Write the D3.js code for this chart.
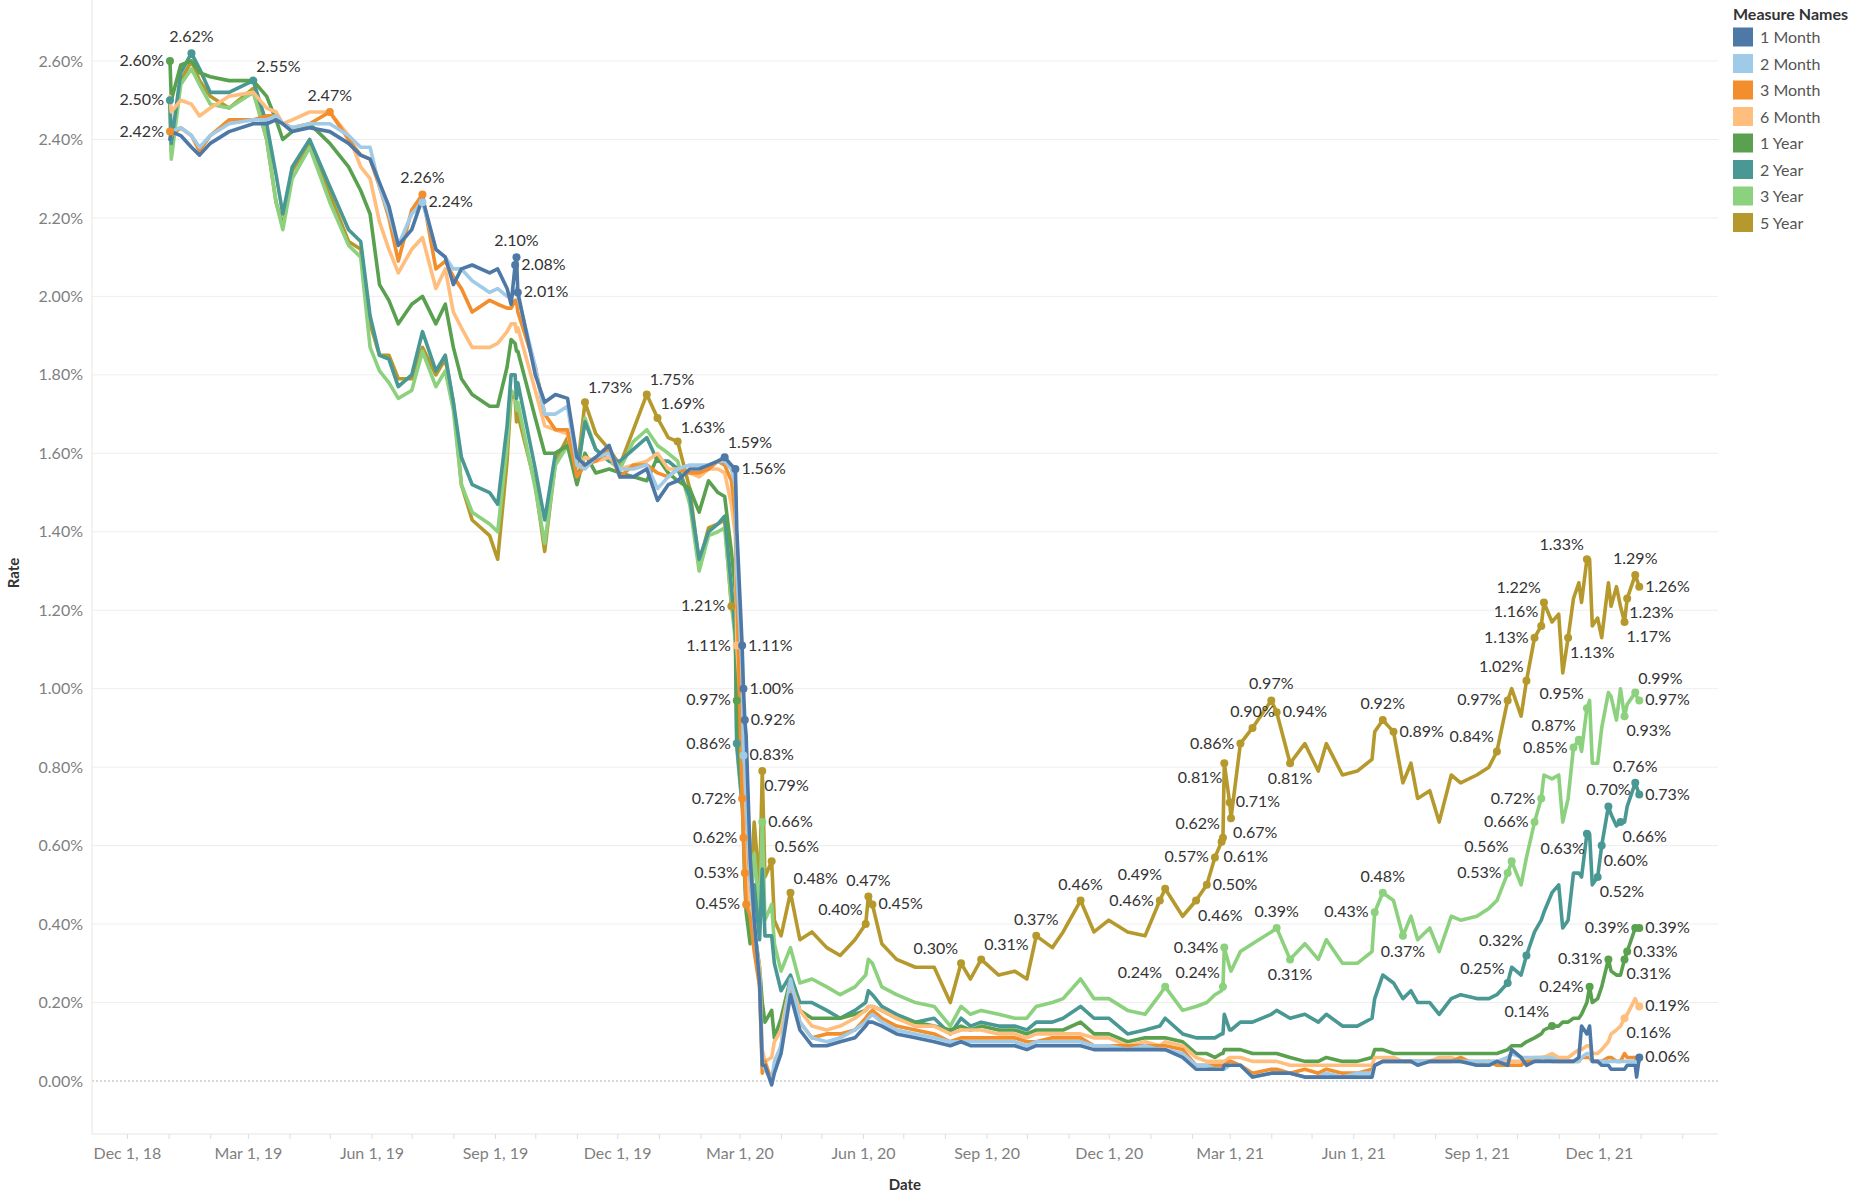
<!DOCTYPE html>
<html>
<head>
<meta charset="utf-8">
<script src="https://cdn.jsdelivr.net/npm/d3@7"></script>
<style>
  body { margin: 0; background: #fff; }
  text { font-family: Lato, "Open Sans", sans-serif; }
</style>
</head>
<body>
<div id="chart"></div>
<script>
// observation dates (shared by every series)
const dates = [
  "2019-01-02","2019-01-03","2019-01-10","2019-01-18","2019-01-24","2019-02-01","2019-02-15","2019-03-05","2019-03-15","2019-03-22",
  "2019-03-27","2019-04-03","2019-04-16","2019-05-01","2019-05-15","2019-05-24","2019-05-31","2019-06-07","2019-06-14","2019-06-21",
  "2019-07-01","2019-07-09","2019-07-19","2019-07-26","2019-08-01","2019-08-07","2019-08-15","2019-08-28","2019-09-03","2019-09-10",
  "2019-09-13","2019-09-16","2019-09-17","2019-09-18","2019-10-01","2019-10-08","2019-10-16","2019-10-25","2019-11-01","2019-11-07",
  "2019-11-15","2019-11-25","2019-12-03","2019-12-13","2019-12-23","2019-12-31","2020-01-08","2020-01-15","2020-01-24","2020-01-31",
  "2020-02-07","2020-02-14","2020-02-19","2020-02-24","2020-02-27","2020-02-28","2020-03-03","2020-03-04","2020-03-05","2020-03-06",
  "2020-03-09","2020-03-12","2020-03-16","2020-03-18","2020-03-20","2020-03-25","2020-03-27","2020-04-01","2020-04-08","2020-04-15",
  "2020-04-24","2020-05-05","2020-05-15","2020-05-26","2020-06-03","2020-06-05","2020-06-08","2020-06-15","2020-06-26","2020-07-10",
  "2020-07-24","2020-08-05","2020-08-13","2020-08-20","2020-08-28","2020-09-10","2020-09-22","2020-10-01","2020-10-08","2020-10-20",
  "2020-10-28","2020-11-10","2020-11-20","2020-12-01","2020-12-15","2020-12-28","2021-01-08","2021-01-12","2021-01-25","2021-02-04",
  "2021-02-12","2021-02-18","2021-02-23","2021-02-24","2021-02-25","2021-03-01","2021-03-02","2021-03-09","2021-03-18","2021-04-01",
  "2021-04-05","2021-04-15","2021-04-26","2021-05-06","2021-05-12","2021-05-24","2021-06-04","2021-06-15","2021-06-17","2021-06-23",
  "2021-07-01","2021-07-08","2021-07-14","2021-07-19","2021-07-28","2021-08-04","2021-08-13","2021-08-20","2021-09-01","2021-09-10",
  "2021-09-16","2021-09-24","2021-09-27","2021-10-04","2021-10-08","2021-10-14","2021-10-19","2021-10-21","2021-10-27","2021-11-01",
  "2021-11-04","2021-11-08","2021-11-12","2021-11-16","2021-11-18","2021-11-22","2021-11-24","2021-11-26","2021-11-30","2021-12-03",
  "2021-12-08","2021-12-10","2021-12-14","2021-12-17","2021-12-20","2021-12-22","2021-12-28","2021-12-29","2021-12-31"
];

// rates in percent, one array per maturity
const m1 = [
  2.40,2.42,2.41,2.38,2.36,2.39,2.42,2.44,2.44,2.45, 2.44,2.42,2.43,2.42,2.39,2.36,2.35,2.29,2.23,2.13,
  2.17,2.25,2.12,2.10,2.03,2.07,2.08,2.06,2.07,2.02, 1.98,2.08,2.10,2.01,1.80,1.73,1.75,1.74,1.59,1.57,
  1.59,1.62,1.54,1.54,1.56,1.48,1.52,1.53,1.56,1.56, 1.57,1.58,1.59,1.57,1.56,1.41,1.11,1.00,0.92,0.88,
  0.57,0.41,0.25,0.04,0.04,-0.01,0.02,0.07,0.22,0.13, 0.09,0.09,0.10,0.11,0.14,0.15,0.15,0.14,0.12,0.11,
  0.10,0.09,0.10,0.09,0.09,0.09,0.09,0.08,0.09,0.09, 0.09,0.09,0.08,0.08,0.08,0.08,0.08,0.08,0.06,0.03,
  0.03,0.03,0.03,0.03,0.04,0.04,0.04,0.04,0.01,0.02, 0.02,0.02,0.01,0.01,0.01,0.01,0.01,0.01,0.04,0.05,
  0.05,0.05,0.05,0.04,0.05,0.05,0.05,0.05,0.04,0.04, 0.05,0.04,0.08,0.06,0.04,0.05,0.05,0.05,0.05,0.05,
  0.05,0.05,0.05,0.06,0.14,0.12,0.14,0.05,0.05,0.04, 0.04,0.03,0.03,0.03,0.03,0.04,0.04,0.01,0.06
];
const m2 = [
  2.40,2.42,2.43,2.41,2.38,2.41,2.44,2.45,2.45,2.46, 2.44,2.43,2.44,2.44,2.41,2.38,2.38,2.28,2.21,2.13,
  2.21,2.24,2.12,2.10,2.07,2.07,2.04,2.01,2.02,2.00, 2.00,2.01,2.02,2.00,1.82,1.70,1.70,1.72,1.57,1.56,
  1.59,1.60,1.56,1.56,1.57,1.51,1.54,1.56,1.57,1.57, 1.57,1.58,1.58,1.56,1.52,1.30,1.05,0.83,0.80,0.72,
  0.52,0.40,0.26,0.05,0.03,0.00,0.05,0.09,0.26,0.15, 0.11,0.10,0.11,0.13,0.15,0.16,0.17,0.15,0.13,0.12,
  0.11,0.10,0.10,0.10,0.10,0.10,0.10,0.09,0.10,0.10, 0.10,0.10,0.09,0.09,0.08,0.09,0.08,0.08,0.07,0.04,
  0.04,0.03,0.03,0.03,0.03,0.04,0.04,0.04,0.01,0.02, 0.02,0.02,0.01,0.01,0.02,0.01,0.02,0.02,0.04,0.05,
  0.05,0.05,0.05,0.05,0.05,0.05,0.05,0.05,0.05,0.05, 0.05,0.06,0.07,0.06,0.06,0.06,0.06,0.06,0.06,0.05,
  0.05,0.05,0.05,0.05,0.06,0.07,0.07,0.05,0.05,0.05, 0.05,0.05,0.05,0.05,0.05,0.05,0.05,0.05,0.05
];
const m3 = [
  2.42,2.41,2.43,2.41,2.37,2.41,2.45,2.45,2.46,2.46, 2.44,2.43,2.44,2.47,2.40,2.36,2.35,2.28,2.20,2.09,
  2.22,2.26,2.07,2.09,2.05,2.02,1.96,1.99,1.98,1.97, 1.97,1.99,1.99,1.96,1.82,1.70,1.66,1.66,1.54,1.57,
  1.58,1.61,1.54,1.57,1.57,1.55,1.54,1.56,1.55,1.55, 1.56,1.58,1.57,1.53,1.44,1.27,0.72,0.62,0.53,0.45,
  0.42,0.33,0.24,0.02,0.05,0.00,0.03,0.09,0.25,0.15, 0.11,0.12,0.12,0.13,0.16,0.17,0.18,0.16,0.14,0.13,
  0.12,0.10,0.11,0.11,0.11,0.11,0.11,0.10,0.10,0.11, 0.11,0.11,0.09,0.09,0.09,0.09,0.09,0.09,0.08,0.04,
  0.04,0.04,0.04,0.04,0.04,0.05,0.05,0.04,0.02,0.03, 0.03,0.02,0.03,0.02,0.03,0.02,0.02,0.03,0.04,0.05,
  0.05,0.05,0.05,0.05,0.05,0.05,0.05,0.06,0.04,0.05, 0.04,0.04,0.04,0.04,0.05,0.05,0.06,0.06,0.05,0.05,
  0.05,0.05,0.05,0.05,0.06,0.06,0.06,0.05,0.05,0.05, 0.06,0.06,0.05,0.05,0.07,0.06,0.06,0.05,0.06
];
const m6 = [
  2.51,2.47,2.50,2.49,2.46,2.48,2.51,2.52,2.48,2.47, 2.44,2.45,2.47,2.47,2.41,2.33,2.30,2.19,2.12,2.06,
  2.12,2.15,2.02,2.07,1.96,1.92,1.87,1.87,1.88,1.91, 1.93,1.93,1.91,1.92,1.76,1.67,1.66,1.65,1.56,1.59,
  1.58,1.59,1.56,1.57,1.58,1.60,1.56,1.56,1.55,1.54, 1.56,1.56,1.55,1.47,1.39,1.11,0.90,0.68,0.60,0.53,
  0.43,0.37,0.29,0.08,0.05,0.06,0.10,0.13,0.25,0.18, 0.14,0.13,0.14,0.16,0.18,0.19,0.19,0.18,0.16,0.14,
  0.14,0.12,0.13,0.13,0.13,0.12,0.12,0.11,0.12,0.12, 0.12,0.12,0.11,0.11,0.09,0.10,0.09,0.10,0.09,0.06,
  0.05,0.05,0.05,0.05,0.05,0.06,0.06,0.06,0.05,0.05, 0.05,0.04,0.04,0.04,0.04,0.04,0.04,0.04,0.06,0.06,
  0.06,0.05,0.05,0.05,0.05,0.06,0.06,0.05,0.05,0.05, 0.05,0.05,0.05,0.05,0.05,0.06,0.06,0.06,0.07,0.06,
  0.06,0.06,0.07,0.08,0.08,0.09,0.09,0.07,0.07,0.08, 0.10,0.12,0.13,0.14,0.16,0.17,0.21,0.20,0.19
];
const y1 = [
  2.60,2.50,2.59,2.60,2.57,2.56,2.55,2.55,2.51,2.45, 2.40,2.42,2.44,2.39,2.33,2.27,2.21,2.03,1.99,1.93,
  1.98,2.00,1.93,1.98,1.87,1.79,1.75,1.72,1.72,1.82, 1.89,1.88,1.86,1.86,1.69,1.60,1.60,1.62,1.52,1.60,
  1.55,1.56,1.55,1.54,1.53,1.59,1.55,1.53,1.51,1.45, 1.53,1.50,1.49,1.35,1.25,0.97,0.73,0.62,0.51,0.43,
  0.35,0.39,0.29,0.20,0.15,0.18,0.11,0.16,0.26,0.18, 0.16,0.16,0.16,0.17,0.18,0.19,0.19,0.18,0.16,0.15,
  0.14,0.13,0.14,0.13,0.14,0.13,0.13,0.12,0.13,0.13, 0.13,0.15,0.12,0.12,0.10,0.11,0.11,0.11,0.10,0.07,
  0.07,0.06,0.07,0.07,0.08,0.08,0.08,0.08,0.07,0.07, 0.07,0.06,0.05,0.05,0.06,0.05,0.05,0.06,0.08,0.08,
  0.07,0.07,0.07,0.07,0.07,0.07,0.07,0.07,0.07,0.07, 0.07,0.08,0.09,0.09,0.10,0.11,0.12,0.13,0.14,0.14,
  0.15,0.15,0.16,0.16,0.17,0.20,0.24,0.20,0.21,0.24, 0.31,0.28,0.27,0.27,0.31,0.33,0.39,0.39,0.39
];
const y2 = [
  2.50,2.39,2.57,2.62,2.58,2.52,2.52,2.55,2.44,2.31, 2.21,2.33,2.40,2.28,2.17,2.14,1.95,1.85,1.84,1.77,
  1.80,1.91,1.81,1.85,1.73,1.59,1.52,1.50,1.47,1.67, 1.80,1.80,1.74,1.78,1.56,1.43,1.60,1.62,1.55,1.68,
  1.61,1.58,1.58,1.61,1.64,1.58,1.58,1.56,1.49,1.33, 1.40,1.42,1.44,1.26,1.14,0.86,0.71,0.70,0.59,0.52,
  0.38,0.50,0.36,0.54,0.37,0.37,0.30,0.23,0.27,0.20, 0.20,0.18,0.16,0.18,0.20,0.23,0.22,0.19,0.17,0.15,
  0.16,0.12,0.16,0.14,0.15,0.14,0.14,0.13,0.15,0.15, 0.16,0.19,0.16,0.16,0.12,0.13,0.14,0.16,0.12,0.11,
  0.11,0.11,0.12,0.12,0.17,0.13,0.13,0.15,0.15,0.17, 0.18,0.16,0.17,0.15,0.17,0.14,0.14,0.16,0.21,0.27,
  0.25,0.21,0.23,0.20,0.20,0.17,0.21,0.22,0.21,0.21, 0.22,0.25,0.29,0.27,0.32,0.38,0.41,0.43,0.48,0.50,
  0.39,0.41,0.53,0.53,0.52,0.63,0.63,0.50,0.52,0.60, 0.70,0.68,0.65,0.66,0.66,0.70,0.76,0.75,0.73
];
const y3 = [
  2.47,2.35,2.54,2.58,2.54,2.49,2.48,2.52,2.40,2.24, 2.17,2.30,2.38,2.24,2.13,2.10,1.87,1.81,1.78,1.74,
  1.76,1.86,1.77,1.81,1.71,1.52,1.45,1.42,1.40,1.62, 1.76,1.75,1.71,1.73,1.51,1.37,1.57,1.62,1.53,1.69,
  1.61,1.58,1.56,1.63,1.66,1.62,1.60,1.58,1.47,1.30, 1.39,1.40,1.41,1.22,1.12,0.85,0.70,0.69,0.59,0.52,
  0.42,0.58,0.43,0.66,0.41,0.45,0.35,0.28,0.34,0.25, 0.26,0.24,0.22,0.24,0.27,0.31,0.30,0.24,0.22,0.20,
  0.19,0.14,0.19,0.17,0.18,0.17,0.16,0.16,0.19,0.20, 0.21,0.26,0.21,0.21,0.18,0.17,0.22,0.24,0.18,0.19,
  0.20,0.22,0.23,0.24,0.34,0.29,0.28,0.33,0.35,0.38, 0.39,0.31,0.35,0.31,0.36,0.30,0.30,0.33,0.43,0.48,
  0.46,0.37,0.42,0.36,0.39,0.33,0.42,0.41,0.42,0.44, 0.46,0.53,0.56,0.50,0.57,0.66,0.72,0.78,0.77,0.78,
  0.66,0.72,0.85,0.87,0.84,0.95,0.97,0.81,0.81,0.90, 0.99,0.98,0.92,1.00,0.93,0.96,0.99,0.98,0.97
];
const y5 = [
  2.49,2.37,2.55,2.60,2.55,2.51,2.48,2.53,2.40,2.24, 2.18,2.32,2.39,2.26,2.14,2.12,1.93,1.85,1.85,1.79,
  1.79,1.87,1.80,1.84,1.73,1.52,1.43,1.39,1.33,1.58, 1.75,1.74,1.68,1.70,1.52,1.35,1.58,1.64,1.55,1.73,
  1.65,1.61,1.57,1.66,1.75,1.69,1.64,1.63,1.51,1.32, 1.41,1.42,1.43,1.21,1.16,0.89,0.75,0.74,0.62,0.58,
  0.46,0.66,0.49,0.79,0.52,0.56,0.41,0.37,0.48,0.36, 0.38,0.34,0.32,0.36,0.40,0.47,0.45,0.35,0.31,0.29,
  0.29,0.20,0.30,0.26,0.31,0.27,0.28,0.26,0.37,0.34, 0.38,0.46,0.38,0.41,0.38,0.37,0.46,0.49,0.42,0.46,
  0.50,0.57,0.61,0.62,0.81,0.71,0.67,0.86,0.90,0.97, 0.94,0.81,0.86,0.79,0.86,0.78,0.79,0.82,0.89,0.92,
  0.89,0.76,0.81,0.72,0.74,0.66,0.78,0.76,0.78,0.80, 0.84,0.97,1.00,0.93,1.02,1.13,1.16,1.22,1.17,1.19,
  1.04,1.13,1.23,1.27,1.22,1.33,1.33,1.16,1.18,1.13, 1.27,1.21,1.26,1.21,1.17,1.23,1.29,1.28,1.26
];

const seriesNames = ["1 Month","2 Month","3 Month","6 Month","1 Year","2 Year","3 Year","5 Year"];
const seriesValues = [m1, m2, m3, m6, y1, y2, y3, y5];
const seriesKeys = ["m1","m2","m3","m6","y1","y2","y3","y5"];
const colors = ["#4e79a7","#a0cbe8","#f28e2b","#ffbe7d","#59a14f","#499894","#8cd17d","#b6992d"];

// labelled marks: series, date, side of the dot the text sits on
const labels = [
  ["y1","2019-01-02","l"],["y2","2019-01-02","l"],["m3","2019-01-02","l"],
  ["y2","2019-01-18","t"],["y2","2019-03-05","tr"],["m3","2019-05-01","t"],
  ["m3","2019-07-09","t"],["m2","2019-07-09","r"],
  ["m1","2019-09-17","t"],["m1","2019-09-16","r"],["m1","2019-09-18","r"],
  ["y5","2019-11-07","tr"],["y5","2019-12-23","tr"],["y5","2019-12-31","tr"],["y5","2020-01-15","tr"],
  ["m1","2020-02-19","tr"],["m1","2020-02-27","r"],["y5","2020-02-24","l"],
  ["m6","2020-02-28","l"],["y1","2020-02-28","l"],["y2","2020-02-28","l"],
  ["m1","2020-03-03","r"],["m1","2020-03-04","r"],["m1","2020-03-05","r"],["m2","2020-03-04","r"],
  ["m3","2020-03-03","l"],["m3","2020-03-04","l"],["m3","2020-03-05","l"],["m3","2020-03-06","l"],
  ["y3","2020-03-18","r"],["y5","2020-03-18","br"],["y5","2020-03-25","tr"],["y5","2020-04-08","tr"],
  ["y5","2020-06-03","tl"],["y5","2020-06-05","t"],["y5","2020-06-08","r"],
  ["y5","2020-08-13","tl"],["y5","2020-08-28","tr"],["y5","2020-10-08","t"],["y5","2020-11-10","t"],
  ["y5","2021-01-08","l"],["y5","2021-01-12","tl"],["y3","2021-01-12","tl"],
  ["y5","2021-02-04","br"],["y5","2021-02-12","r"],["y5","2021-02-18","l"],["y5","2021-02-23","br"],
  ["y5","2021-02-24","tl"],["y5","2021-02-25","bl"],["y3","2021-02-24","tl"],["y3","2021-02-25","l"],
  ["y5","2021-03-01","r"],["y5","2021-03-02","br"],
  ["y5","2021-03-09","l"],["y5","2021-03-18","t"],["y5","2021-04-01","t"],["y5","2021-04-05","r"],
  ["y5","2021-04-15","b"],["y3","2021-04-05","t"],["y3","2021-04-15","b"],
  ["y3","2021-06-17","l"],["y3","2021-06-23","t"],["y5","2021-06-23","t"],["y5","2021-07-01","r"],["y3","2021-07-08","b"],
  ["y5","2021-09-16","tl"],["y5","2021-09-24","l"],["y3","2021-09-24","l"],["y2","2021-09-24","tl"],["y3","2021-09-27","tl"],
  ["y5","2021-10-08","tl"],["y2","2021-10-08","tl"],["y3","2021-10-14","l"],["y5","2021-10-14","l"],
  ["y3","2021-10-19","l"],["y5","2021-10-19","tl"],["y5","2021-10-21","tl"],
  ["y1","2021-10-27","tl"],["y5","2021-11-08","br"],["y3","2021-11-12","l"],["y3","2021-11-16","tl"],
  ["y3","2021-11-22","tl"],["y2","2021-11-22","bl"],["y5","2021-11-22","tl"],["y1","2021-11-24","l"],
  ["y2","2021-11-30","br"],["y2","2021-12-03","br"],["y1","2021-12-08","l"],["y2","2021-12-08","t"],["y2","2021-12-17","br"],
  ["y1","2021-12-20","br"],["m6","2021-12-20","br"],["y3","2021-12-20","br"],["y5","2021-12-20","br"],
  ["y1","2021-12-22","r"],["y5","2021-12-22","br"],
  ["y1","2021-12-28","l"],["y2","2021-12-28","t"],["y3","2021-12-28","tr"],["y5","2021-12-28","t"],
  ["m1","2021-12-31","r"],["m6","2021-12-31","r"],["y1","2021-12-31","r"],["y2","2021-12-31","r"],
  ["y3","2021-12-31","r"],["y5","2021-12-31","r"]
];

const yTicks = [0, 0.2, 0.4, 0.6, 0.8, 1.0, 1.2, 1.4, 1.6, 1.8, 2.0, 2.2, 2.4, 2.6];

seriesValues.forEach((s, i) => {
  if (s.length !== dates.length) throw new Error(seriesNames[i] + " has " + s.length + " values");
});

const W = 1871, H = 1197;
const plot = {left: 92, right: 1718, top: 0, bottom: 1134};

const parse = d3.timeParse("%Y-%m-%d");
const parsedDates = dates.map(parse);
const dateIndex = new Map(dates.map((d, i) => [d, i]));

const x = d3.scaleTime()
  .domain([new Date(2018, 11, 1), new Date(2021, 11, 1)])
  .range([127, 1599]);
const y = d3.scaleLinear()
  .domain([0, 2.6])
  .range([1081, 61]);

const svg = d3.select("#chart").append("svg")
  .attr("width", W)
  .attr("height", H)
  .style("background", "#fff");

// grid
svg.append("g").selectAll("line")
  .data(yTicks.filter(d => d > 0))
  .join("line")
  .attr("x1", plot.left).attr("x2", plot.right)
  .attr("y1", d => y(d)).attr("y2", d => y(d))
  .attr("stroke", "#eeeeee").attr("stroke-width", 1);

svg.append("line")
  .attr("x1", plot.left).attr("x2", plot.right)
  .attr("y1", y(0)).attr("y2", y(0))
  .attr("stroke", "#b4b4b4").attr("stroke-dasharray", "2,2");

// frame
svg.append("line")
  .attr("x1", plot.left).attr("x2", plot.left)
  .attr("y1", plot.top).attr("y2", plot.bottom)
  .attr("stroke", "#e6e6e6");
svg.append("line")
  .attr("x1", plot.left).attr("x2", plot.right)
  .attr("y1", plot.bottom).attr("y2", plot.bottom)
  .attr("stroke", "#e6e6e6");

// y axis labels
const yAxis = svg.append("g")
  .attr("transform", `translate(${plot.left},0)`)
  .call(d3.axisLeft(y).tickValues(yTicks).tickSize(0).tickPadding(9)
    .tickFormat(d => d.toFixed(2) + "%"));
yAxis.select(".domain").remove();
yAxis.selectAll("text")
  .attr("fill", "#7f7f7f")
  .style("font-size", "16px")
  .style("font-family", "Lato, sans-serif");

// x axis: monthly ticks, a label every quarter
const months = d3.timeMonth.range(new Date(2018, 11, 1), new Date(2022, 1, 2));
const fmt = d3.timeFormat("%b %-d, %y");
const xAxis = svg.append("g")
  .attr("transform", `translate(0,${plot.bottom})`)
  .call(d3.axisBottom(x).tickValues(months).tickSize(5).tickPadding(9)
    .tickFormat(d => d.getMonth() % 3 === 2 ? fmt(d) : ""));
xAxis.select(".domain").remove();
xAxis.selectAll("line").attr("stroke", "#dddddd");
xAxis.selectAll("text")
  .attr("fill", "#7f7f7f")
  .style("font-size", "16px")
  .style("font-family", "Lato, sans-serif");

// axis titles
svg.append("text")
  .attr("transform", "translate(19,573) rotate(-90)")
  .attr("text-anchor", "middle")
  .attr("fill", "#333")
  .style("font-size", "15px")
  .style("font-weight", "bold")
  .text("Rate");
svg.append("text")
  .attr("x", 905).attr("y", 1190)
  .attr("text-anchor", "middle")
  .attr("fill", "#333")
  .style("font-size", "15px")
  .style("font-weight", "bold")
  .text("Date");

// lines, longest maturity underneath
const line = d3.line()
  .x(d => x(d.date))
  .y(d => y(d.v));

const order = d3.range(seriesNames.length).reverse();
svg.append("g").selectAll("path")
  .data(order)
  .join("path")
  .attr("d", i => line(seriesValues[i].map((v, j) => ({date: parsedDates[j], v}))))
  .attr("fill", "none")
  .attr("stroke", i => colors[i])
  .attr("stroke-width", 3.6)
  .attr("stroke-linejoin", "round")
  .attr("stroke-linecap", "round");

// labelled points
const marks = labels.map(([key, date, pos]) => {
  const si = seriesKeys.indexOf(key);
  const di = dateIndex.get(date);
  if (si < 0 || di === undefined) throw new Error("bad label " + key + " " + date);
  const v = seriesValues[si][di];
  return {cx: x(parsedDates[di]), cy: y(v), v, pos, color: colors[si]};
});

svg.append("g").selectAll("circle")
  .data(marks)
  .join("circle")
  .attr("cx", d => d.cx).attr("cy", d => d.cy)
  .attr("r", 4)
  .attr("fill", d => d.color);

const place = {
  l:  {dx: -6, dy: 5,   anchor: "end"},
  r:  {dx: 6,  dy: 5,   anchor: "start"},
  t:  {dx: 0,  dy: -11, anchor: "middle"},
  b:  {dx: 0,  dy: 21,  anchor: "middle"},
  tl: {dx: -3, dy: -9,  anchor: "end"},
  tr: {dx: 3,  dy: -9,  anchor: "start"},
  bl: {dx: -2, dy: 20,  anchor: "end"},
  br: {dx: 2,  dy: 20,  anchor: "start"}
};

svg.append("g").selectAll("text")
  .data(marks)
  .join("text")
  .attr("x", d => d.cx + place[d.pos].dx)
  .attr("y", d => d.cy + place[d.pos].dy)
  .attr("text-anchor", d => place[d.pos].anchor)
  .attr("fill", "#333")
  .style("font-size", "16px")
  .text(d => d.v.toFixed(2) + "%");

// legend
const legend = svg.append("g").attr("transform", "translate(1733,0)");
legend.append("text")
  .attr("x", 0).attr("y", 20)
  .attr("fill", "#333")
  .style("font-size", "16px")
  .style("font-weight", "bold")
  .text("Measure Names");
const items = legend.selectAll("g.item")
  .data(seriesNames)
  .join("g")
  .attr("class", "item")
  .attr("transform", (d, i) => `translate(0,${37.5 + i * 26.5})`);
items.append("rect")
  .attr("x", 0).attr("y", -10)
  .attr("width", 20).attr("height", 19)
  .attr("fill", (d, i) => colors[i]);
items.append("text")
  .attr("x", 27).attr("y", 5.5)
  .attr("fill", "#555")
  .style("font-size", "16px")
  .text(d => d);
</script>
</body>
</html>
